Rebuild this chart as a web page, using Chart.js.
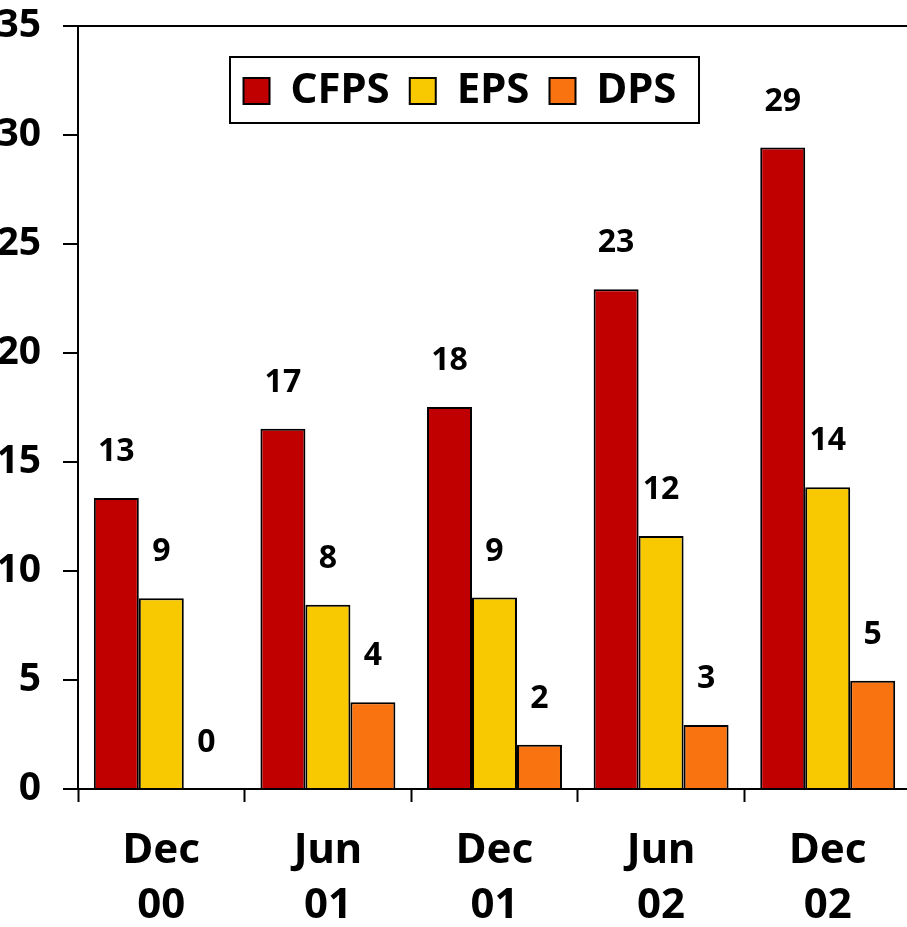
<!DOCTYPE html>
<html>
<head>
<meta charset="utf-8">
<script src="https://cdn.jsdelivr.net/npm/chart.js@4/dist/chart.umd.min.js"></script>
<style>
html,body{margin:0;padding:0;background:#fff;overflow:hidden;width:907px;height:927px;}
#wrap{position:absolute;left:-60px;top:0;width:980px;height:927px;}
</style>
</head>
<body>
<div id="wrap"><canvas id="c" width="980" height="927"></canvas></div>
<script>
const categories = [['Dec','00'],['Jun','01'],['Dec','01'],['Jun','02'],['Dec','02']];
const seriesNames = ['CFPS','EPS','DPS'];
const cfps = [13.35, 16.52, 17.52, 22.92, 29.43];
const eps  = [8.75, 8.45, 8.78, 11.6, 13.84];
const dps  = [0, 3.98, 2.03, 2.94, 4.97];
const yTicks = [0, 5, 10, 15, 20, 25, 30, 35];
const seriesColors = ['#C00000', '#F8C800', '#F97311'];

Chart.defaults.font.family = "'Noto Sans', sans-serif";
Chart.defaults.font.weight = 'bold';
Chart.defaults.color = '#000';

const valueLabels = {
  id: 'valueLabels',
  afterDatasetsDraw(chart) {
    const ctx = chart.ctx;
    ctx.save();
    ctx.font = 'bold 32px "Noto Sans"';
    ctx.fillStyle = '#000';
    ctx.textAlign = 'center';
    ctx.textBaseline = 'middle';
    chart.data.datasets.forEach((ds, i) => {
      chart.getDatasetMeta(i).data.forEach((el, j) => {
        ctx.fillText(String(Math.round(ds.data[j])), el.x, el.y - 46);
      });
    });
    ctx.restore();
  }
};

const legendPlace = {
  id: 'legendPlace',
  afterLayout(chart) {
    const lg = chart.legend;
    if (!lg) return;
    const cx = 520, w = 700;
    lg.left = cx - w / 2; lg.right = cx + w / 2; lg.width = w;
    lg.top = 50; lg.bottom = 160; lg.height = 110;
  },
  afterDraw(chart) {
    const lg = chart.legend;
    if (!lg || !lg.legendHitBoxes || !lg.legendHitBoxes.length) return;
    const hb = lg.legendHitBoxes;
    const first = hb[0], last = hb[hb.length - 1];
    const x1 = first.left - 14, x2 = last.left + last.width + 22;
    const y1 = first.top - 13, y2 = first.top + first.height + 11;
    const ctx = chart.ctx;
    ctx.save();
    ctx.strokeStyle = '#000';
    ctx.lineWidth = 2;
    ctx.strokeRect(Math.round(x1), Math.round(y1), Math.round(x2 - x1), Math.round(y2 - y1));
    ctx.restore();
  }
};

const seriesData = [cfps, eps, dps];
new Chart(document.getElementById('c'), {
  type: 'bar',
  data: {
    labels: categories,
    datasets: seriesNames.map((name, i) => ({
      label: name,
      data: seriesData[i],
      backgroundColor: seriesColors[i],
      borderColor: '#000',
      borderWidth: 2,
      categoryPercentage: 0.81,
      barPercentage: 1.0
    }))
  },
  options: {
    responsive: false,
    animation: false,
    layout: { padding: { top: 25, right: 9, bottom: 0, left: 0 } },
    plugins: {
      tooltip: { enabled: false },
      legend: {
        display: true,
        position: 'top',
        maxHeight: 1,
        labels: {
          boxWidth: 26,
          boxHeight: 26,
          padding: 20,
          color: '#000',
          font: { size: 42, weight: 'bold' }
        }
      }
    },
    scales: {
      x: {
        afterFit(s) { s.height = 138; },
        ticks: {
          color: '#000',
          font: { size: 42, weight: 'bold', lineHeight: 1.31 },
          padding: 22,
          maxRotation: 0,
          autoSkip: false
        },
        grid: {
          offset: true,
          drawOnChartArea: false,
          color: 'rgba(0,0,0,0)',
          tickLength: 13,
          tickColor: '#000',
          tickWidth: 2
        },
        border: { display: true, color: '#000', width: 2 }
      },
      y: {
        min: 0,
        max: 35,
        afterFit(s) { s.width = 138; s.paddingTop = 0; s.paddingBottom = 0; },
        afterBuildTicks(s) { s.ticks = yTicks.map(v => ({ value: v })); },
        ticks: {
          color: '#000',
          font: { size: 39, weight: 'bold' },
          padding: 22
        },
        grid: {
          color: c => (c.tick && c.tick.value === 35) ? '#000' : 'rgba(0,0,0,0)',
          lineWidth: 2,
          tickLength: 15,
          tickColor: '#000',
          tickWidth: 2
        },
        border: { display: true, color: '#000', width: 2 }
      }
    }
  },
  plugins: [valueLabels, legendPlace]
});
</script>
</body>
</html>
